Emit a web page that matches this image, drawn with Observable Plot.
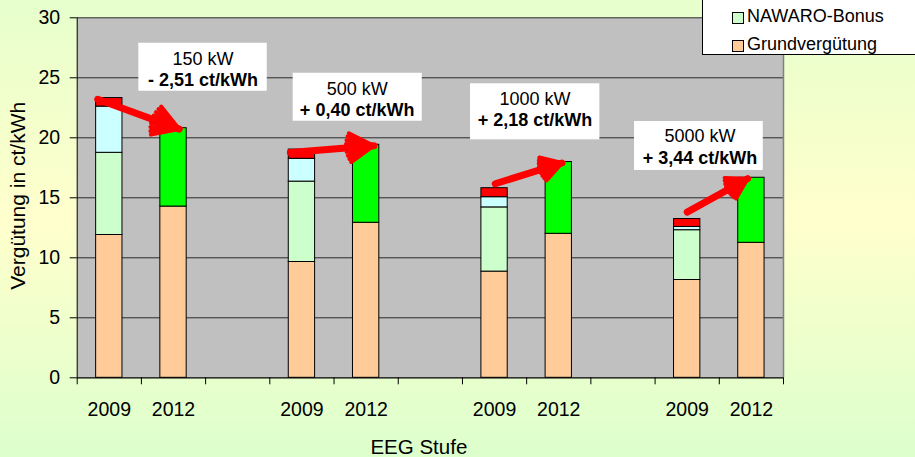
<!DOCTYPE html>
<html>
<head>
<meta charset="utf-8">
<script src="https://cdn.jsdelivr.net/npm/d3@7"></script>
<script src="https://cdn.jsdelivr.net/npm/@observablehq/plot@0.6"></script>
<style>
  html, body { margin: 0; padding: 0; }
  #wrap {
    position: relative; width: 915px; height: 457px; overflow: hidden;
    background: linear-gradient(to bottom, #E6FFCC 0%, #FFFFCC 48%, #DCFFCC 100%);
    font-family: "Liberation Sans", Arial, sans-serif;
  }
  #wrap svg { display: block; }
  #legend {
    position: absolute; left: 702px; top: -30px; width: 240px; height: 85px;
    background: #fff; border: 1px solid #000; box-sizing: border-box;
  }
  #legend .sw { position: absolute; left: 29px; width: 10px; height: 10px; border: 1px solid #000; }
  #legend .lb { position: absolute; left: 44px; font-size: 18px; line-height: 18px; color: #000; white-space: nowrap; }
</style>
</head>
<body>
<div id="wrap"></div>
<script>
// ---- data (ct/kWh) ----
const groups = ["150 kW", "500 kW", "1000 kW", "5000 kW"];
const years = ["2009", "2012"];
const grund2009 = [11.9, 9.65, 8.85, 8.15];      // Grundvergütung
const nawaro2009 = [6.85, 6.7, 5.35, 4.15];      // NAWARO-Bonus
const bonusCyan2009 = [3.85, 1.9, 0.85, 0.27];   // weiterer Bonus
const bonusRed2009 = [0.71, 0.77, 0.75, 0.66];   // weiterer Bonus
const grund2012 = [14.27, 12.92, 12.0, 11.25];   // Grundvergütung
const green2012 = [6.53, 6.5, 5.98, 5.42];       // Einsatzstoffvergütung
const deltaLabels = ["- 2,51 ct/kWh", "+ 0,40 ct/kWh", "+ 2,18 ct/kWh", "+ 3,44 ct/kWh"];
const yTicks = [0, 5, 10, 15, 20, 25, 30];
const legendItems = ["NAWARO-Bonus", "Grundvergütung"];

// ---- styles ----
const colors = {
  grund: "#FFCC99", nawaro: "#CCFFCC", cyan: "#CCFFFF", red: "#FF0000", green: "#00FF00"
};

// ---- build tables ----
const nSlots = groups.length * 3 - 1;
const segments = [];
function addStack(slot, parts) {
  let acc = 0;
  for (const [v, c] of parts) {
    segments.push({slot, y1: acc, y2: acc + v, color: c});
    acc += v;
  }
  return acc;
}
const totals2009 = [], totals2012 = [];
groups.forEach((g, i) => {
  totals2009.push(addStack(i * 3, [
    [grund2009[i], colors.grund], [nawaro2009[i], colors.nawaro],
    [bonusCyan2009[i], colors.cyan], [bonusRed2009[i], colors.red]
  ]));
  totals2012.push(addStack(i * 3 + 1, [
    [grund2012[i], colors.grund], [green2012[i], colors.green]
  ]));
});

const slotLabel = new Map();
groups.forEach((g, i) => { slotLabel.set(i * 3, years[0]); slotLabel.set(i * 3 + 1, years[1]); });
const labelCenters = [...slotLabel.keys()].map(s => s + 0.5);
const boundaries = d3.range(0, nSlots + 1);

// annotation layout (box extents and text lines, in axis units)
const boxLayout = [
  {x1: 0.96, x2: 2.96, y1: 23.88, y2: 27.88, tx: 1.96, l1: 26.58, l2: 24.83},
  {x1: 3.364, x2: 5.374, y1: 21.38, y2: 25.38, tx: 4.36, l1: 24.08, l2: 22.28},
  {x1: 6.126, x2: 8.14, y1: 19.83, y2: 24.5, tx: 7.13, l1: 23.25, l2: 21.44},
  {x1: 8.68, x2: 10.685, y1: 17.28, y2: 21.36, tx: 9.70, l1: 20.13, l2: 18.3}
];
const annot = groups.map((g, i) => ({...boxLayout[i], kw: g, delta: deltaLabels[i]}));

// arrow layout: x offsets within slots, start-y shift
const arrowLayout = [
  {sx: 0.32, ex: 0.59, sdy: -0.1},
  {sx: 0.32, ex: 0.62, sdy: -0.25},
  {sx: 0.51, ex: 0.55, sdy: 0.37},
  {sx: 0.50, ex: 0.44, sdy: 0.58}
];
const arrows = groups.map((g, i) => ({
  x1: i * 3 + arrowLayout[i].sx, y1: totals2009[i] + arrowLayout[i].sdy,
  x2: i * 3 + 1 + arrowLayout[i].ex, y2: totals2012[i] - 0.08
}));
const arrowBase = {x1: "x1", y1: "y1", x2: "x2", y2: "y2", stroke: "#FF0000",
  strokeLinejoin: "round", strokeLinecap: "round"};

const plot = Plot.plot({
  width: 915, height: 457,
  marginLeft: 76.7, marginRight: 132, marginTop: 17.3, marginBottom: 79.7,
  style: {background: "transparent", fontFamily: "'Liberation Sans', Arial, sans-serif", fontSize: "19.5px", color: "#000", overflow: "visible"},
  color: {type: "identity"},
  x: {type: "linear", domain: [0, nSlots], ticks: labelCenters, tickFormat: v => slotLabel.get(Math.floor(v)), tickSize: 0, tickPadding: 24, label: null},
  y: {domain: [0, 30], ticks: yTicks, tickSize: 7, tickPadding: 10, label: null},
  marks: [
    Plot.frame({fill: "#C0C0C0", stroke: null}),
    Plot.ruleY(yTicks.filter(v => v > 0), {stroke: "#2a2a2a", strokeWidth: 1}),
    Plot.ruleX([nSlots], {stroke: "#808080", strokeWidth: 1.5}),
    Plot.rectY(segments, {x1: d => d.slot + 0.295, x2: d => d.slot + 0.705, y1: "y1", y2: "y2",
      fill: "color", stroke: "#000", strokeWidth: 1}),
    Plot.arrow(arrows, {...arrowBase, strokeWidth: 7, headLength: 0}),
    ...[62, 48, 32, 16, 0].map(a => Plot.arrow(arrows, {...arrowBase, strokeWidth: 4, headAngle: a, headLength: 14})),
    Plot.rect(annot, {x1: "x1", x2: "x2", y1: "y1", y2: "y2", fill: "#FFFFFF"}),
    Plot.text(annot, {x: "tx", y: "l1", text: "kw", fontSize: 18, fill: "#000"}),
    Plot.text(annot, {x: "tx", y: "l2", text: "delta", fontSize: 18, fontWeight: "bold", fill: "#000"}),
    Plot.ruleX([0], {stroke: "#000", strokeWidth: 1}),
    Plot.ruleY([0], {stroke: "#000", strokeWidth: 1.2}),
    Plot.ruleX(boundaries, {y1: 0, y2: 0, insetBottom: -7, stroke: "#000"}),
    Plot.text(["Vergütung in ct/kWh"], {frameAnchor: "left", textAnchor: "middle", lineAnchor: "middle", dx: -59, dy: -2, rotate: -90, text: d => d, fontSize: 21, fill: "#000"}),
    Plot.text(["EEG Stufe"], {frameAnchor: "bottom", textAnchor: "middle", lineAnchor: "middle", dx: -11.5, dy: 69.7, text: d => d, fontSize: 20.5, fill: "#000"})
  ]
});
const wrap = document.getElementById("wrap");
wrap.appendChild(plot);

// legend (top is clipped in the reference)
const legend = document.createElement("div");
legend.id = "legend";
const legendColors = {"NAWARO-Bonus": colors.nawaro, "Grundvergütung": colors.grund};
const rowTops = [38.5, 66.5];
legendItems.forEach((name, i) => {
  const sw = document.createElement("div");
  sw.className = "sw";
  sw.style.top = (rowTops[i] + 2) + "px";
  sw.style.background = legendColors[name];
  const lb = document.createElement("div");
  lb.className = "lb";
  lb.style.top = (rowTops[i] - 2.5) + "px";
  lb.textContent = name;
  legend.appendChild(sw);
  legend.appendChild(lb);
});
wrap.appendChild(legend);
</script>
</body>
</html>
